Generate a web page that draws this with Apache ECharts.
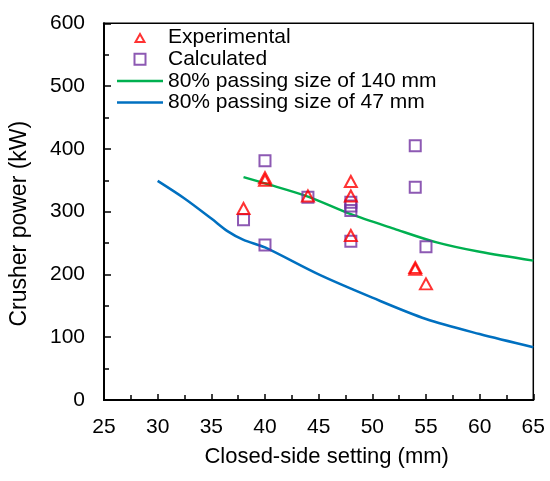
<!DOCTYPE html>
<html>
<head>
<meta charset="utf-8">
<script src="https://cdn.jsdelivr.net/npm/echarts@6/dist/echarts.min.js"></script>
<style>
html,body{margin:0;padding:0;background:#fff;}
#chart{width:550px;height:481px;}
</style>
</head>
<body>
<div id="chart"></div>
<script>
// Experimental (triangles): [closed-side setting mm, power kW]
var experimental = [[38,305],[40,350],[40,354],[44,325],[48,348],[48,325],[48,262],[54,208],[54,211],[55,185]];
// Calculated (squares)
var calculated = [[38,287],[40,381],[40,247],[44,323],[48,315],[48,309],[48,302],[48,253],[54,405],[54,339],[55,244]];
// 80% passing size of 140 mm
var p140 = [[38,355],[40,345],[44,324],[48,296],[52,273],[56,251],[60,236],[65,222]];
// 80% passing size of 47 mm
var p47 = [[30,349],[32.5,321],[35,289],[36.5,269],[38,255],[40,243],[45,200],[50,163],[55,129],[60,105],[65,84]];

var seriesNames = ['Experimental','Calculated','80% passing size of 140 mm','80% passing size of 47 mm'];
var xName = 'Closed-side setting (mm)';
var yName = 'Crusher power (kW)';

var RED = '#FF0000', PURPLE = '#7030A0', GREEN = '#00B050', BLUE = '#0070C0';
var FONT = '"Liberation Sans", Arial, sans-serif';

// legend icons drawn in a 46x12 box so they keep their shape
var ICON_TRI = 'path://M0,0M46,12M18.5,10.5L23,2.5L27.5,10.5Z';
var ICON_SQ = 'path://M0,0M46,12M17.5,0.5L28.5,0.5L28.5,11.5L17.5,11.5Z';
var ICON_LINE = 'path://M0,0M46,12M0,4.75L46,4.75L46,7.25L0,7.25Z';

var chart = echarts.init(document.getElementById('chart'), null, {renderer:'canvas'});
chart.setOption({
  animation:false,
  backgroundColor:'#fff',
  textStyle:{fontFamily:FONT},
  grid:{left:102.7,right:16.7,top:23.3,bottom:81,show:true,borderColor:'#000',borderWidth:1.5,backgroundColor:'transparent'},
  legend:{
    data:[
      {name:seriesNames[0],icon:ICON_TRI,itemStyle:{color:'rgba(255,255,255,0)',borderColor:RED,borderWidth:2}},
      {name:seriesNames[1],icon:ICON_SQ,itemStyle:{color:'rgba(255,255,255,0)',borderColor:PURPLE,borderWidth:2}},
      {name:seriesNames[2],icon:ICON_LINE,itemStyle:{color:GREEN,borderWidth:0}},
      {name:seriesNames[3],icon:ICON_LINE,itemStyle:{color:BLUE,borderWidth:0}}
    ],
    orient:'vertical',
    left:111, top:22,
    itemWidth:46, itemHeight:12, itemGap:0.7,
    textStyle:{fontFamily:FONT,fontSize:21,color:'#000',lineHeight:21},
    selectedMode:false
  },
  xAxis:{
    type:'value',min:25,max:65,interval:5,
    name:xName,nameLocation:'middle',nameGap:46,
    nameTextStyle:{fontFamily:FONT,fontSize:22,color:'#000',padding:[0,0,0,16]},
    axisLine:{lineStyle:{color:'#000',width:2}},
    axisTick:{inside:true,length:6,lineStyle:{color:'#000',width:1.5}},
    minorTick:{show:true,splitNumber:2,length:5,lineStyle:{color:'#000',width:1.5}},
    axisLabel:{fontFamily:FONT,fontSize:21,color:'#000',margin:17},
    splitLine:{show:false}
  },
  yAxis:{
    type:'value',min:0,max:600,interval:100,
    name:yName,nameLocation:'middle',nameGap:73,
    nameTextStyle:{fontFamily:FONT,fontSize:23,color:'#000',padding:[0,24,0,0]},
    axisLine:{lineStyle:{color:'#000',width:2}},
    axisTick:{inside:true,length:7,lineStyle:{color:'#000',width:1.5}},
    minorTick:{show:true,splitNumber:2,length:5,lineStyle:{color:'#000',width:1.5}},
    axisLabel:{fontFamily:FONT,fontSize:21,color:'#000',margin:19},
    splitLine:{show:false}
  },
  series:[
    {name:seriesNames[0],type:'scatter',data:experimental,symbol:'triangle',symbolSize:[12,11],z:4,
     itemStyle:{color:'rgba(255,255,255,0)',borderColor:RED,borderWidth:2}},
    {name:seriesNames[1],type:'scatter',data:calculated,symbol:'rect',symbolSize:11,z:3,
     itemStyle:{color:'rgba(255,255,255,0)',borderColor:PURPLE,borderWidth:2}},
    {name:seriesNames[2],type:'line',data:p140,symbol:'none',smooth:0.3,z:2,
     lineStyle:{color:GREEN,width:2.5},itemStyle:{color:GREEN}},
    {name:seriesNames[3],type:'line',data:p47,symbol:'none',smooth:0.3,z:2,
     lineStyle:{color:BLUE,width:2.5},itemStyle:{color:BLUE}}
  ]
});
</script>
</body>
</html>
